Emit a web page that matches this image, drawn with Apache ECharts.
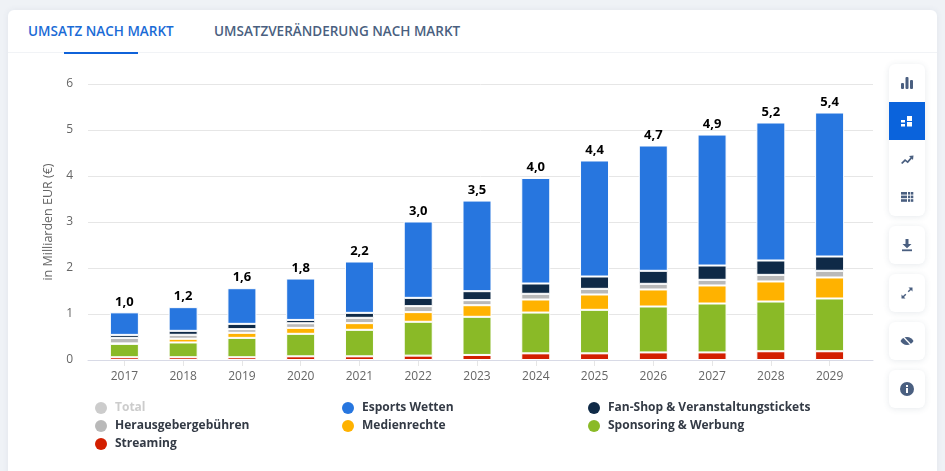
<!DOCTYPE html>
<html lang="de">
<head>
<meta charset="utf-8">
<title>Umsatz nach Markt</title>
<script src="https://cdn.jsdelivr.net/npm/echarts@6/dist/echarts.min.js"></script>
<style>
    html, body { margin: 0; padding: 0; width: 945px; height: 471px; overflow: hidden; background: #eff2f6; }
    .card { position: absolute; left: 8px; top: 10px; width: 929px; height: 480px; background: #fff; border-radius: 6px; box-shadow: 0 0 6px rgba(60, 80, 110, .08); }
    .divider { position: absolute; left: 8px; top: 52px; width: 929px; height: 1px; background: #f1f3f6; }
    .tab { position: absolute; top: 21px; font: 600 13.5px/20px "Open Sans", sans-serif; white-space: nowrap; color: #4a5f80; }
    .tab.active { color: #1a6bd6; }
    .underline { position: absolute; left: 64px; top: 52px; width: 74px; height: 2px; background: #0f62d9; }
    #chart { position: absolute; left: 0; top: 0; width: 945px; height: 471px; }
    .tools { position: absolute; left: 889px; width: 36px; background: #fff; border-radius: 6px; box-shadow: 0 1px 6px rgba(60, 80, 110, .12); overflow: hidden; }
    .tools div { height: 38px; display: flex; align-items: center; justify-content: center; }
    .tools div.on { background: #0a63dc; }
    .tools svg { width: 14px; height: 14px; fill: #4a5f80; }
    .tools .on svg { fill: #fff; }
</style>
</head>
<body>
<div class="card"></div>
<div class="divider"></div>
<div class="tab active" style="left:28px">UMSATZ NACH MARKT</div>
<div class="tab" style="left:214px">UMSATZVERÄNDERUNG NACH MARKT</div>
<div class="underline"></div>
<div id="chart"></div>
<div class="tools" style="top:64px">
    <div><svg viewBox="0 0 14 14"><rect x="1" y="7" width="3" height="6" rx="1"/><rect x="5.5" y="1" width="3" height="12" rx="1"/><rect x="10" y="4" width="3" height="9" rx="1"/></svg></div>
    <div class="on"><svg viewBox="0 0 14 14"><rect x="1" y="6" width="4" height="2.5"/><rect x="1" y="10" width="4" height="2.5"/><rect x="7" y="2" width="5" height="5"/><rect x="7" y="8" width="5" height="4.5"/></svg></div>
    <div><svg viewBox="0 0 14 14"><path d="M1 11 L5 7 L7.5 9 L10.5 5.5 L9 4 L13.5 3.5 L13 8 L11.8 6.8 L7.8 11.3 L5.2 9.2 L2.4 12 Z"/></svg></div>
    <div><svg viewBox="0 0 14 14"><rect x="1" y="2" width="6" height="2.6"/><rect x="8" y="2" width="2.3" height="2.6"/><rect x="11" y="2" width="2.3" height="2.6"/><rect x="1" y="5.6" width="6" height="2.6"/><rect x="8" y="5.6" width="2.3" height="2.6"/><rect x="11" y="5.6" width="2.3" height="2.6"/><rect x="1" y="9.2" width="6" height="2.6"/><rect x="8" y="9.2" width="2.3" height="2.6"/><rect x="11" y="9.2" width="2.3" height="2.6"/></svg></div>
</div>
<div class="tools" style="top:226px">
    <div><svg viewBox="0 0 14 14"><path d="M5.5 1 H8.5 V6 H11.5 L7 10.3 L2.5 6 H5.5 Z"/><rect x="2" y="11.4" width="10" height="1.8"/></svg></div>
</div>
<div class="tools" style="top:274px">
    <div><svg viewBox="0 0 14 14"><path d="M8.5 1.5 H12.5 V5.5 L11 4 L8.7 6.3 L7.7 5.3 L10 3 Z"/><path d="M5.5 12.5 H1.5 V8.5 L3 10 L5.3 7.7 L6.3 8.7 L4 11 Z"/></svg></div>
</div>
<div class="tools" style="top:322px">
    <div><svg viewBox="0 0 14 14"><path d="M7 3 C10 3 12.4 5 13.5 7 C12.4 9 10 11 7 11 C4 11 1.6 9 .5 7 C1.6 5 4 3 7 3 Z"/><path d="M2.5 2 L12 12" stroke="#fff" stroke-width="1.2"/></svg></div>
</div>
<div class="tools" style="top:370px">
    <div><svg viewBox="0 0 14 14"><circle cx="7" cy="7" r="7"/><rect x="6" y="6" width="2" height="5" fill="#fff"/><rect x="6" y="3" width="2" height="2" fill="#fff"/></svg></div>
</div>
<script>
var years = ['2017', '2018', '2019', '2020', '2021', '2022', '2023', '2024', '2025', '2026', '2027', '2028', '2029'];
var yTicks = [0, 1, 2, 3, 4, 5, 6];

// in Milliarden EUR
var streaming = [0.06, 0.06, 0.06, 0.08, 0.08, 0.095, 0.11, 0.145, 0.145, 0.165, 0.165, 0.19, 0.19];
var sponsoring = [0.291, 0.321, 0.421, 0.489, 0.576, 0.736, 0.829, 0.886, 0.946, 0.998, 1.063, 1.081, 1.147];
var medienrechte = [0.01, 0.08, 0.11, 0.13, 0.145, 0.21, 0.252, 0.284, 0.333, 0.37, 0.392, 0.436, 0.457];
var herausgeber = [0.12, 0.087, 0.08, 0.1, 0.116, 0.13, 0.11, 0.124, 0.123, 0.123, 0.123, 0.144, 0.145];
var fanShop = [0.065, 0.086, 0.115, 0.072, 0.108, 0.18, 0.195, 0.224, 0.268, 0.283, 0.311, 0.312, 0.311];
var wetten = [0.49, 0.515, 0.775, 0.9, 1.116, 1.66, 1.97, 2.294, 2.522, 2.724, 2.847, 3.0, 3.13];
var totals = [1.0, 1.2, 1.6, 1.8, 2.2, 3.0, 3.5, 4.0, 4.4, 4.7, 4.9, 5.2, 5.4];

var chart = echarts.init(document.getElementById('chart'));
var FONT = '"Open Sans", sans-serif';

function barSeries(name, data, color) {
    return {
        name: name,
        type: 'bar',
        stack: 'umsatz',
        xAxisIndex: 1,
        yAxisIndex: 1,
        data: data,
        barWidth: 29,
        animation: false,
        itemStyle: { color: color, borderColor: '#fff', borderWidth: 1 }
    };
}

function legendColumn(left, names) {
    return {
        orient: 'vertical',
        left: left,
        top: 402,
        padding: 0,
        itemGap: 6,
        itemWidth: 12,
        itemHeight: 12,
        icon: 'circle',
        itemStyle: { borderWidth: 0 },
        inactiveColor: '#cccccc',
        selected: { 'Total': false },
        selectedMode: true,
        data: names,
        textStyle: { fontFamily: FONT, fontWeight: 'bold', fontSize: 12, color: '#333a45', padding: [0, 0, 0, 3] }
    };
}

var wettenSeries = barSeries('Esports Wetten', wetten, '#2776df');
wettenSeries.label = {
    show: true,
    position: 'top',
    distance: 4,
    fontFamily: FONT,
    fontWeight: 'bold',
    fontSize: 13,
    color: '#000',
    formatter: function(p) {
        return totals[p.dataIndex].toFixed(1).replace('.', ',');
    }
};

var option = {
    animation: false,
    grid: [
        { left: 88, right: 72, top: 84, bottom: 111 },
        { left: 95, right: 86, top: 84, bottom: 111 }
    ],
    xAxis: [
        {
            gridIndex: 0, type: 'value', min: 0, max: 1, z: 5,
            axisLine: { show: true, lineStyle: { color: '#d8dae6' } },
            axisTick: { show: false }, axisLabel: { show: false }, splitLine: { show: false }
        },
        {
            gridIndex: 1, type: 'category', data: years,
            axisLine: { show: false },
            axisTick: { show: true, alignWithLabel: true, length: 6, lineStyle: { color: '#e6e6e6' } },
            axisLabel: { fontFamily: FONT, fontSize: 12, color: '#666', margin: 11 }
        }
    ],
    yAxis: [
        {
            gridIndex: 0, type: 'value', min: yTicks[0], max: yTicks[yTicks.length - 1], interval: 1,
            name: 'in Milliarden EUR (€)',
            nameLocation: 'middle',
            nameGap: 30,
            nameTextStyle: { fontFamily: FONT, fontSize: 12.5, color: '#666' },
            axisLine: { show: false },
            axisTick: { show: false },
            axisLabel: { fontFamily: FONT, fontSize: 12, color: '#666', margin: 15, padding: [3, 0, 0, 0] },
            splitLine: { lineStyle: { color: '#e6e6e6' } }
        },
        { gridIndex: 1, type: 'value', min: 0, max: 6, interval: 1, show: false }
    ],
    legend: [
        legendColumn(95, ['Total', 'Herausgebergebühren', 'Streaming']),
        legendColumn(342, ['Esports Wetten', 'Medienrechte']),
        legendColumn(588, ['Fan-Shop & Veranstaltungstickets', 'Sponsoring & Werbung'])
    ],
    series: [
        barSeries('Streaming', streaming, '#d31f00'),
        barSeries('Sponsoring & Werbung', sponsoring, '#8aba27'),
        barSeries('Medienrechte', medienrechte, '#ffb200'),
        barSeries('Herausgebergebühren', herausgeber, '#b9b9b9'),
        barSeries('Fan-Shop & Veranstaltungstickets', fanShop, '#0f2a47'),
        wettenSeries,
        {
            name: 'Total', type: 'line', xAxisIndex: 1, yAxisIndex: 1, data: totals,
            showSymbol: false, itemStyle: { color: '#cccccc' }, lineStyle: { width: 0 }
        }
    ]
};
chart.setOption(option);
</script>
</body>
</html>
